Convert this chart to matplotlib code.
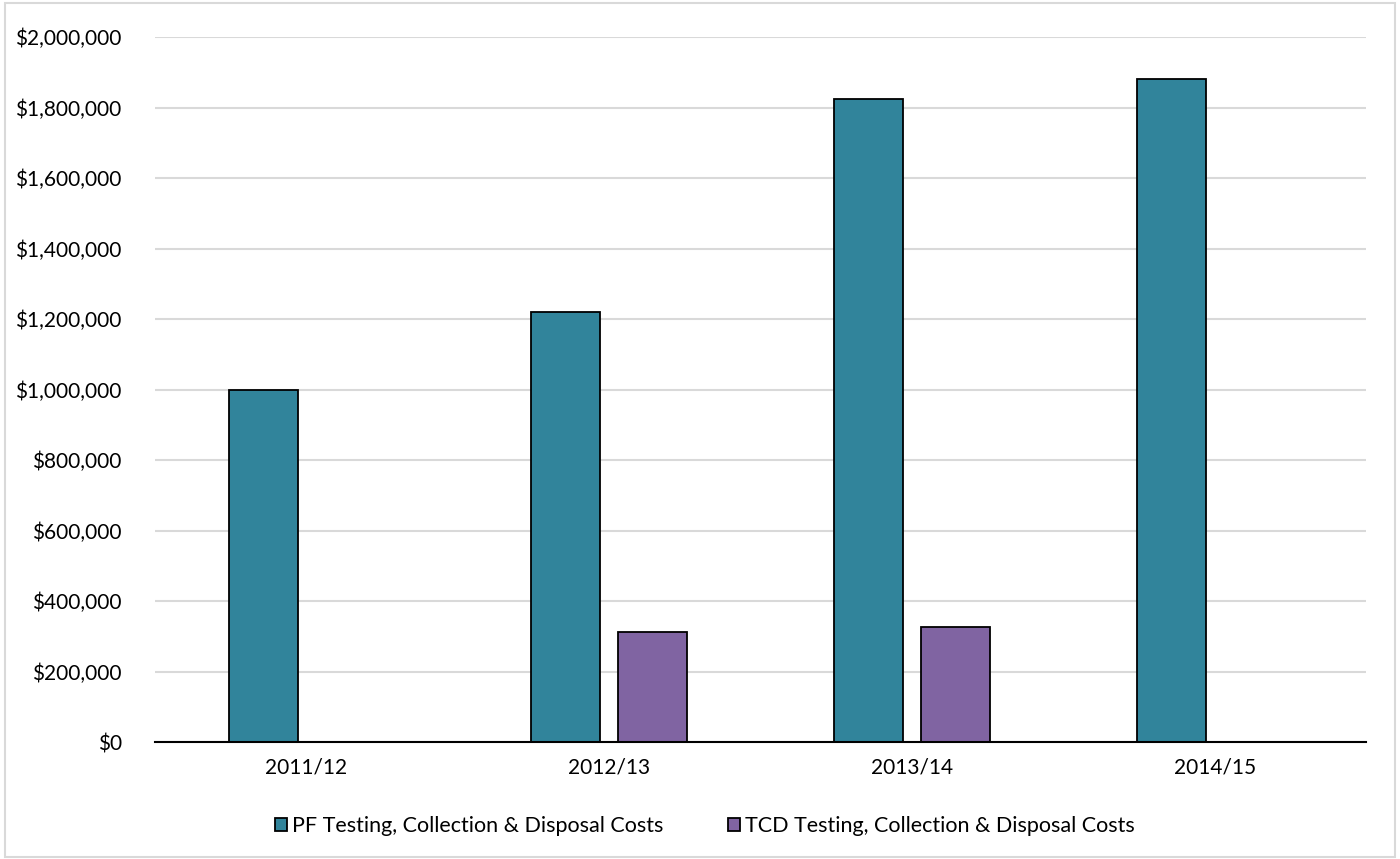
import matplotlib

matplotlib.use("Agg")
import matplotlib.pyplot as plt
import numpy as np
from matplotlib.patches import Rectangle
from matplotlib.ticker import FuncFormatter

# Annual costs by programme (no TCD figures for 2011/12 and 2014/15)
years = ["2011/12", "2012/13", "2013/14", "2014/15"]
pf_costs = [1000000, 1220000, 1824000, 1880000]
tcd_costs = [np.nan, 312000, 326000, np.nan]

PF_COLOR = "#31849B"
TCD_COLOR = "#8064A2"
GRID_COLOR = "#D9D9D9"

plt.rcParams["font.family"] = ["Lato", "DejaVu Sans"]

fig = plt.figure(figsize=(14.0, 8.59), dpi=100)
ax = fig.add_axes([0.1107, 0.1362, 0.865, 0.8207])

x = np.arange(len(years))
width = 0.228
offset = 0.143
ax.bar(x - offset, pf_costs, width, color=PF_COLOR, edgecolor="black",
       linewidth=1.3, label="PF Testing, Collection & Disposal Costs", zorder=3)
ax.bar(x + offset, tcd_costs, width, color=TCD_COLOR, edgecolor="black",
       linewidth=1.3, label="TCD Testing, Collection & Disposal Costs", zorder=3)

ax.set_xlim(-0.5, len(years) - 0.5)
ax.set_ylim(0, 2000000)
ax.set_yticks(np.arange(0, 2000001, 200000))
ax.yaxis.set_major_formatter(FuncFormatter(lambda v, _: f"${v:,.0f}"))
ax.set_xticks(x)
ax.set_xticklabels(years)
ax.tick_params(axis="both", length=0, labelsize=15, colors="black")
ax.tick_params(axis="y", pad=24)
ax.tick_params(axis="x", pad=11)

ax.grid(axis="y", color=GRID_COLOR, linewidth=1.5, zorder=0)
for side in ("top", "right", "left"):
    ax.spines[side].set_visible(False)
ax.spines["bottom"].set_color("black")
ax.spines["bottom"].set_linewidth(1.5)
ax.spines["bottom"].set_zorder(4)

ax.legend(loc="center", bbox_to_anchor=(0.5035, 0.0383), bbox_transform=fig.transFigure,
          ncol=2, frameon=False, fontsize=15.5, handlelength=0.55, handleheight=0.55,
          handletextpad=0.25, columnspacing=3.0)

# light outer border around the chart
fig.patches.append(Rectangle((0.0036, 0.002), 0.9929, 0.994, transform=fig.transFigure,
                             fill=False, edgecolor=GRID_COLOR, linewidth=1.5))

fig.savefig("out.png", dpi=100)
